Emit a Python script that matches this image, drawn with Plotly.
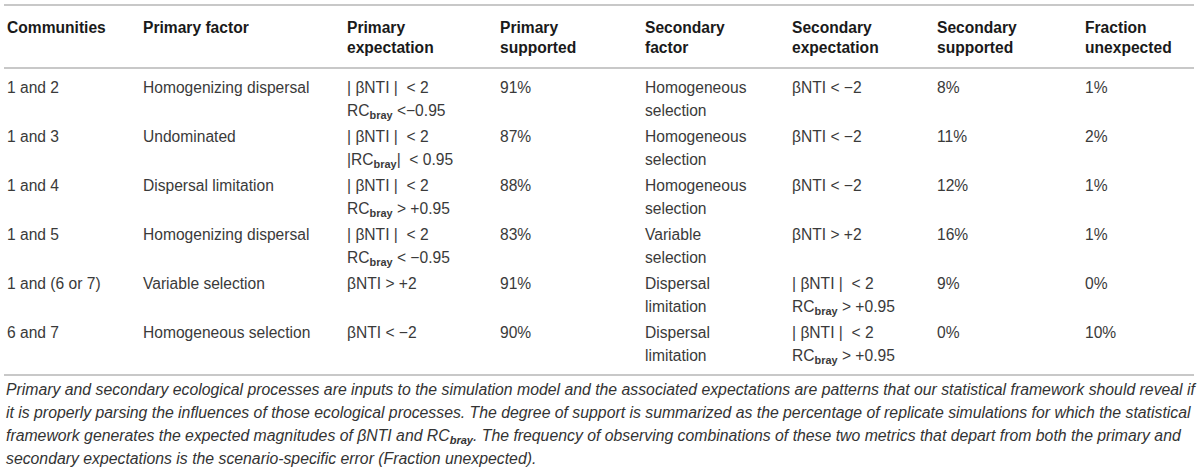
import plotly.graph_objects as go

# table content
headers = ["Communities", "Primary factor", "Primary<br>expectation", "Primary<br>supported",
           "Secondary<br>factor", "Secondary<br>expectation", "Secondary<br>supported",
           "Fraction<br>unexpected"]

communities = ["1 and 2", "1 and 3", "1 and 4", "1 and 5", "1 and (6 or 7)", "6 and 7"]
primary_factor = ["Homogenizing dispersal", "Undominated", "Dispersal limitation",
                  "Homogenizing dispersal", "Variable selection", "Homogeneous selection"]
primary_expectation = [
    "| βNTI |&nbsp; &lt; 2<br>RC<sub><b>bray</b></sub> &lt;−0.95",
    "| βNTI |&nbsp; &lt; 2<br>|RC<sub><b>bray</b></sub>|&nbsp; &lt; 0.95",
    "| βNTI |&nbsp; &lt; 2<br>RC<sub><b>bray</b></sub> &gt; +0.95",
    "| βNTI |&nbsp; &lt; 2<br>RC<sub><b>bray</b></sub> &lt; −0.95",
    "βNTI &gt; +2",
    "βNTI &lt; −2",
]
primary_supported = [91, 87, 88, 83, 91, 90]
secondary_factor = ["Homogeneous<br>selection", "Homogeneous<br>selection", "Homogeneous<br>selection",
                    "Variable<br>selection", "Dispersal<br>limitation", "Dispersal<br>limitation"]
secondary_expectation = [
    "βNTI &lt; −2",
    "βNTI &lt; −2",
    "βNTI &lt; −2",
    "βNTI &gt; +2",
    "| βNTI |&nbsp; &lt; 2<br>RC<sub><b>bray</b></sub> &gt; +0.95",
    "| βNTI |&nbsp; &lt; 2<br>RC<sub><b>bray</b></sub> &gt; +0.95",
]
secondary_supported = [8, 11, 12, 16, 9, 0]
fraction_unexpected = [1, 2, 1, 1, 0, 10]

caption_lines = [
    "Primary and secondary ecological processes are inputs to the simulation model and the associated expectations are patterns that our statistical framework should reveal if",
    "it is properly parsing the influences of those ecological processes. The degree of support is summarized as the percentage of replicate simulations for which the statistical",
    "framework generates the expected magnitudes of βNTI and RC<sub><b>bray</b></sub>. The frequency of observing combinations of these two metrics that depart from both the primary and",
    "secondary expectations is the scenario-specific error (Fraction unexpected).",
]

columns = [
    communities,
    primary_factor,
    primary_expectation,
    [f"{v}%" for v in primary_supported],
    secondary_factor,
    secondary_expectation,
    [f"{v}%" for v in secondary_supported],
    [f"{v}%" for v in fraction_unexpected],
]

# layout (pixels)
W, H = 1200, 469
col_x = [7, 143, 347, 500, 645, 792, 937, 1085]
FONT = "Liberation Sans"
FS = 15.6
HEAD_Y = 33
HEAD_LH = 20
ROW0 = 93
ROW_H = 49
LINE_H = 23
CAP_Y = 395
CAP_LH = 23
CAP_FS = 15.8
RULE_COLOR = "#c8c8c8"


def shift(baseline, fs):
    # scatter text "middle" puts the baseline 0.25em below the point
    return baseline - 0.25 * fs


fig = go.Figure()

# header
hx, hy, ht = [], [], []
for c, h in enumerate(headers):
    for j, line in enumerate(h.split("<br>")):
        hx.append(col_x[c])
        hy.append(shift(HEAD_Y + j * HEAD_LH, FS))
        ht.append(line)
fig.add_trace(go.Scatter(
    x=hx, y=hy, text=ht, mode="text", textposition="middle right",
    textfont=dict(family=FONT, size=FS, color="#1a1a1a", weight="bold"),
    cliponaxis=False, hoverinfo="skip",
))

# body
for c, col in enumerate(columns):
    bx, by, bt = [], [], []
    for i, cell in enumerate(col):
        for j, line in enumerate(cell.split("<br>")):
            bx.append(col_x[c])
            by.append(shift(ROW0 + i * ROW_H + j * LINE_H, FS))
            bt.append(line)
    fig.add_trace(go.Scatter(
        x=bx, y=by, text=bt, mode="text", textposition="middle right",
        textfont=dict(family=FONT, size=FS, color="#3a3a3a"),
        cliponaxis=False, hoverinfo="skip",
    ))

# caption
fig.add_trace(go.Scatter(
    x=[col_x[0] - 1] * len(caption_lines),
    y=[shift(CAP_Y + k * CAP_LH, CAP_FS) for k in range(len(caption_lines))],
    text=caption_lines, mode="text", textposition="middle right",
    textfont=dict(family=FONT, size=CAP_FS, color="#333333", style="italic"),
    cliponaxis=False, hoverinfo="skip",
))

rules = [5, 68, 375]
fig.update_layout(
    width=W, height=H, autosize=False,
    margin=dict(l=0, r=0, t=0, b=0, pad=0),
    paper_bgcolor="white", plot_bgcolor="white",
    showlegend=False, hovermode=False,
    xaxis=dict(range=[0, W], visible=False, fixedrange=True),
    yaxis=dict(range=[H, 0], visible=False, fixedrange=True),
    shapes=[dict(type="line", xref="x", yref="y", x0=4, x1=W - 6, y0=r, y1=r,
                 line=dict(color=RULE_COLOR, width=2)) for r in rules],
)

# drop the browser's default 8px body margin so the figure sits at the page corner
fig.write_html("out.html", config={"displayModeBar": False},
               post_script="document.body.style.margin='0';")
